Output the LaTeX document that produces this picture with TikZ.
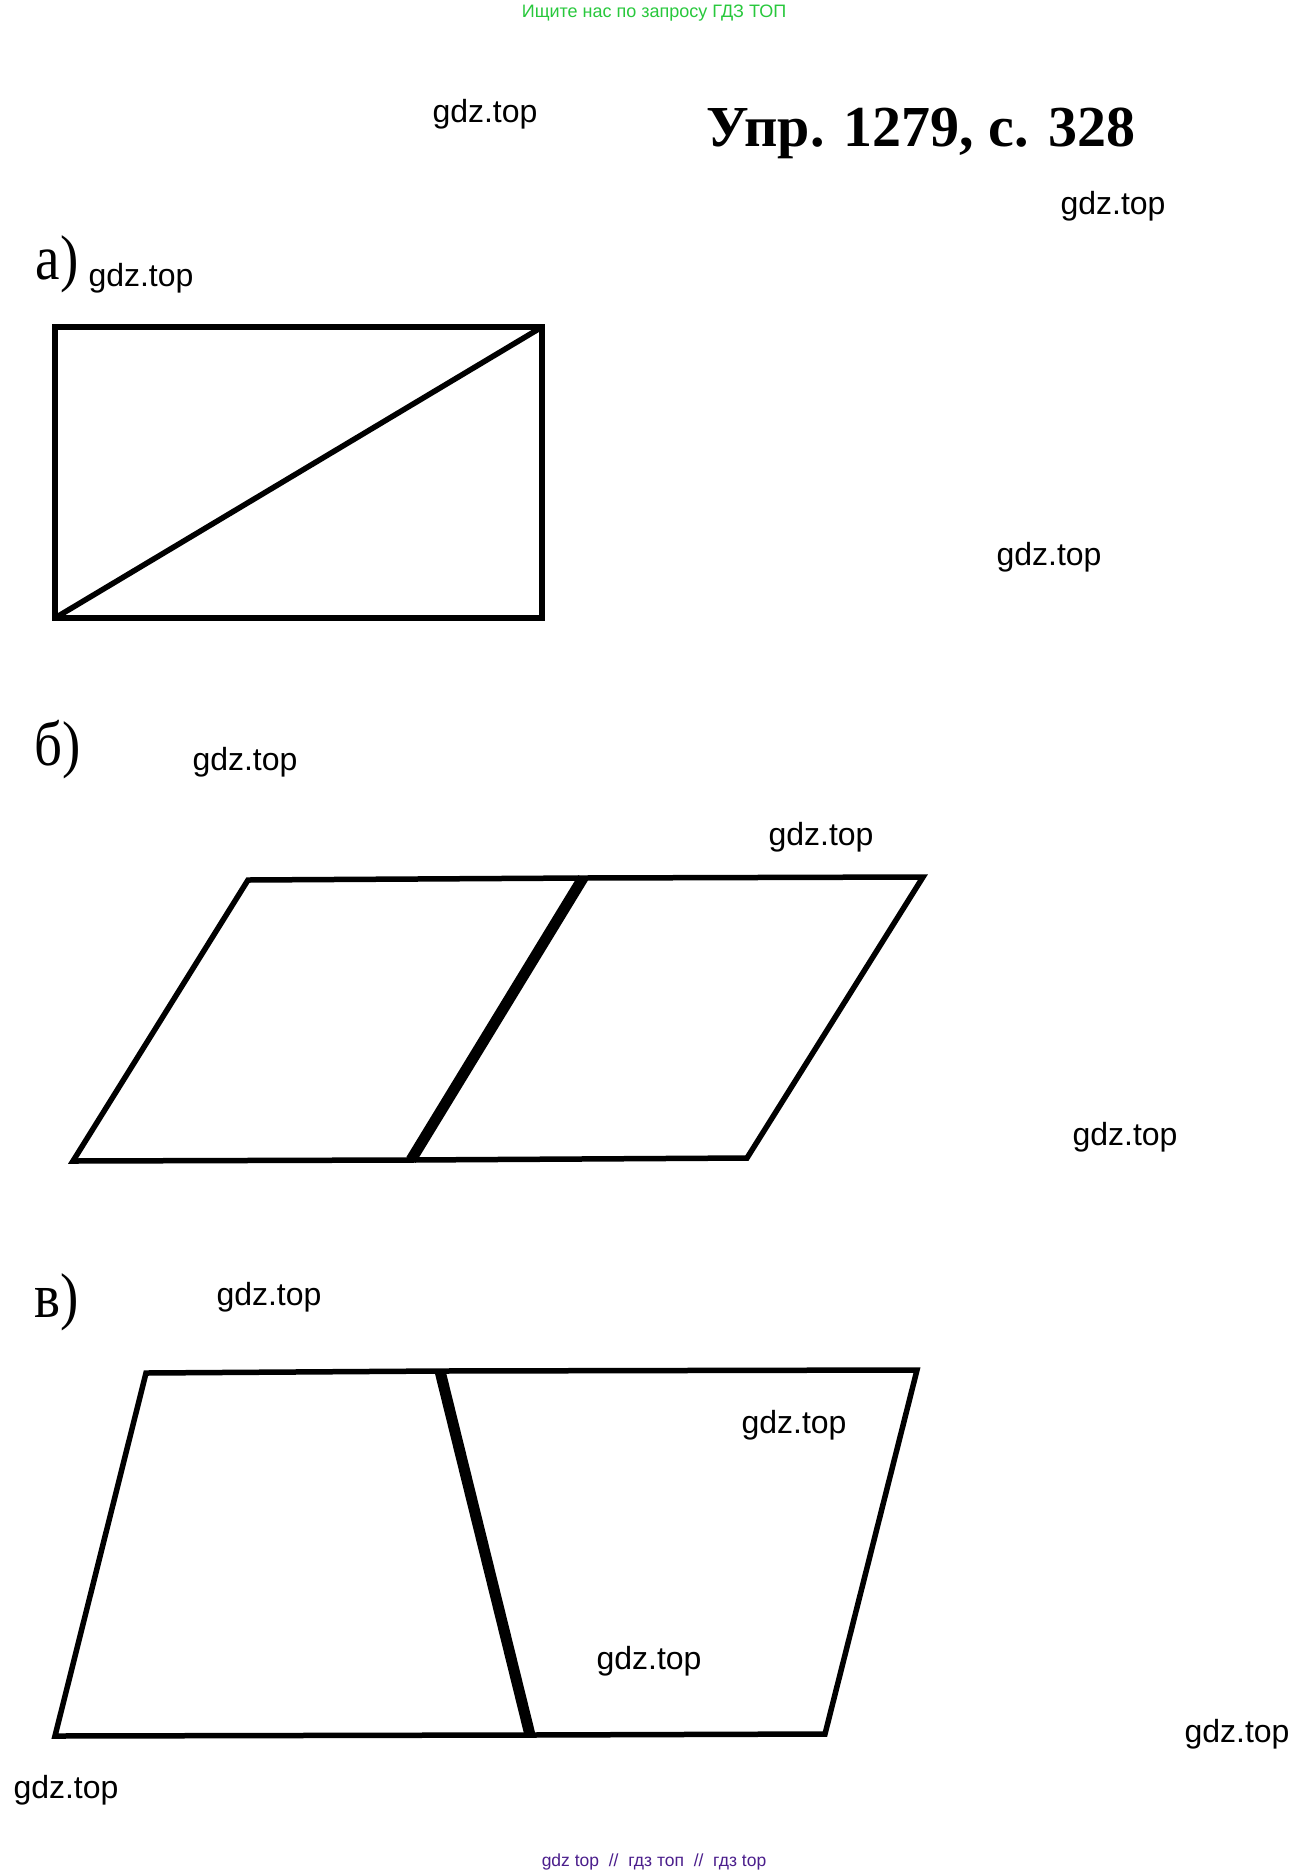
\documentclass[tikz,border=0pt]{standalone}
\usepackage{fontspec}
\setmainfont{Liberation Serif}
\setsansfont{Liberation Sans}
\definecolor{hdrgreen}{RGB}{40,200,60}
\definecolor{ftrpurple}{RGB}{75,30,140}
\tikzset{
  wm/.style={inner sep=0pt, font=\sffamily\fontsize{32}{38}\selectfont},
  lbl/.style={inner sep=0pt, font=\fontsize{55}{60}\selectfont, yscale=1.15},
  outline/.style={draw=black, line width=5.5pt, line join=miter},
  thick mid/.style={draw=black, line width=11pt, line cap=butt}
}
\begin{document}
\begin{tikzpicture}[x=1pt,y=-1pt]
\path[use as bounding box, fill=white] (0,0) rectangle (1310,1875);

% header / footer
\node[inner sep=0pt, text=hdrgreen, font=\sffamily\fontsize{18}{20}\selectfont] (hdr) at (654,13.5) {Ищите нас по запросу ГДЗ ТОП};
\node[inner sep=0pt, text=ftrpurple, font=\sffamily\fontsize{17.5}{20}\selectfont] (ftr) at (654,1861.5) {gdz top \ // \ гдз топ \ // \ гдз top};

% title
\node[inner sep=0pt, font=\bfseries\fontsize{58}{62}\selectfont] (title) at (921,133) {Упр. 1279, с. 328};

% labels
\node[lbl] (la) at (57,264) {а)};
\node[lbl] (lb) at (58,750) {б)};
\node[lbl] (lc) at (57,1302) {в)};

% watermarks
\node[wm] (w1) at (485,114) {gdz.top};
\node[wm] (w2) at (1113,206) {gdz.top};
\node[wm] (w3) at (141,278) {gdz.top};
\node[wm] (w4) at (1049,557) {gdz.top};
\node[wm] (w5) at (245,762) {gdz.top};
\node[wm] (w6) at (821,837) {gdz.top};
\node[wm] (w7) at (1125,1137) {gdz.top};
\node[wm] (w8) at (269,1297) {gdz.top};
\node[wm] (w9) at (794,1425) {gdz.top};
\node[wm] (w10) at (649,1661) {gdz.top};
\node[wm] (w11) at (1237,1734) {gdz.top};
\node[wm] (w12) at (66,1790) {gdz.top};

% a) rectangle with diagonal
\coordinate (A1) at (55,618);
\coordinate (A2) at (542,618);
\coordinate (A3) at (542,327);
\coordinate (A4) at (55,327);
\draw[outline] (A1) -- (A2) -- (A3) -- (A4) -- cycle;
\draw[outline] (A1) -- (A3);

% b) two parallelograms
\coordinate (B1) at (73,1161);
\coordinate (B2) at (248,880);
\coordinate (B3) at (583,878);
\coordinate (B4) at (923,877);
\coordinate (B5) at (747,1158);
\coordinate (B6) at (411,1160);
\draw[outline] (B6) -- (B1) -- (B2) -- (B3) -- (B4) -- (B5) -- cycle;
\draw[thick mid] (B3) -- (B6);

% c) two trapezoid-like shapes
\coordinate (C1) at (55,1736);
\coordinate (C2) at (146,1373);
\coordinate (C3) at (440,1371);
\coordinate (C4) at (917,1370);
\coordinate (C5) at (825,1734);
\coordinate (C6) at (530,1735);
\draw[outline] (C6) -- (C1) -- (C2) -- (C3) -- (C4) -- (C5) -- cycle;
\draw[thick mid] (C3) -- (C6);
\end{tikzpicture}
\end{document}
